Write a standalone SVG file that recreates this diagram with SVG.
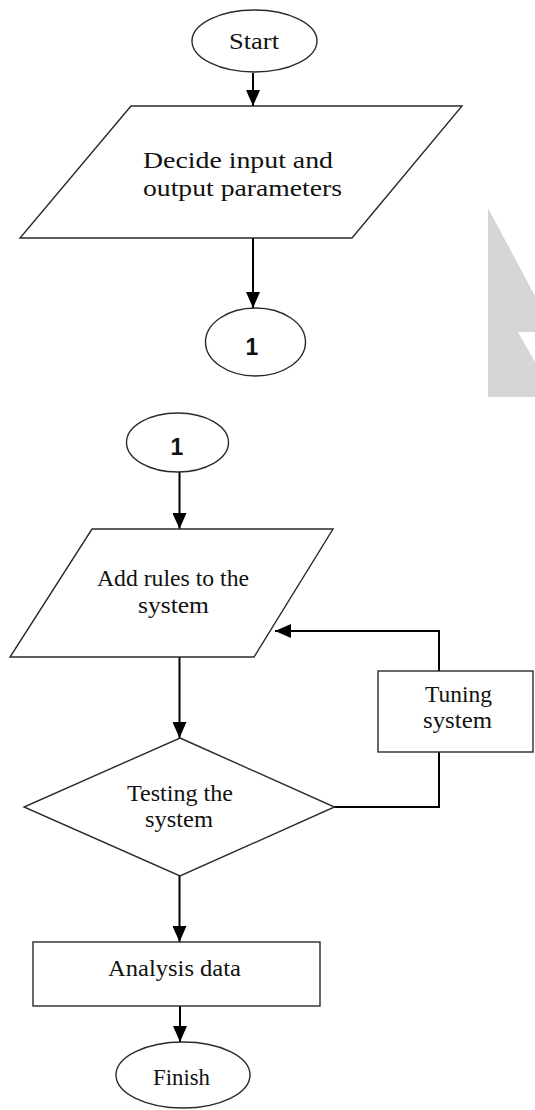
<svg xmlns="http://www.w3.org/2000/svg" width="535" height="1110" viewBox="0 0 535 1110">
<style>
.shape{fill:#fff;stroke:#2a2a2a;stroke-width:1.4}
.conn{fill:none;stroke:#000;stroke-width:2}
.lbl{font-family:"Liberation Serif","Times New Roman",serif;font-size:23px;fill:#111;text-anchor:middle}
.num{font-family:"Liberation Sans",Arial,sans-serif;font-size:23px;font-weight:bold;fill:#111;text-anchor:middle}
</style>
<defs>
<marker id="ah" markerUnits="userSpaceOnUse" markerWidth="16" markerHeight="14" refX="16" refY="7" orient="auto">
<path d="M0,0 L16,7 L0,14 z" fill="#000"/>
</marker>
</defs>
<rect width="535" height="1110" fill="#fff"/>
<polygon points="488,208 535,296 535,332 518,332 535,362 535,397 488,397" fill="#d6d6d6"/>
<g id="connectors">
<path class="conn" d="M253,73 V106" marker-end="url(#ah)"/>
<path class="conn" d="M253,238 V308" marker-end="url(#ah)"/>
<path class="conn" d="M179.5,472 V529" marker-end="url(#ah)"/>
<path class="conn" d="M179.5,657 V738" marker-end="url(#ah)"/>
<path class="conn" d="M334,807 H439 V752"/>
<path class="conn" d="M439,671 V631 H275" marker-end="url(#ah)"/>
<path class="conn" d="M179.5,876 V942" marker-end="url(#ah)"/>
<path class="conn" d="M180,1006 V1042" marker-end="url(#ah)"/>
</g>
<g id="start">
<ellipse class="shape" cx="254.5" cy="41" rx="62.5" ry="31"/>
<text class="lbl" x="254" y="49" textLength="50" lengthAdjust="spacingAndGlyphs">Start</text>
</g>
<g id="decide">
<polygon class="shape" points="131,106 462,106 352,238 20,238"/>
<text class="lbl" x="238" y="168" textLength="190" lengthAdjust="spacingAndGlyphs">Decide input and</text>
<text class="lbl" x="242.5" y="196" textLength="199" lengthAdjust="spacingAndGlyphs">output parameters</text>
</g>
<g id="connector1a">
<ellipse class="shape" cx="255.5" cy="342" rx="50" ry="34"/>
<text class="num" x="252" y="355">1</text>
</g>
<g id="connector1b">
<ellipse class="shape" cx="177.5" cy="442.5" rx="51" ry="29.5"/>
<text class="num" x="177" y="455">1</text>
</g>
<g id="addrules">
<polygon class="shape" points="92,529 333,529 254,657 10,657"/>
<text class="lbl" x="173" y="586" textLength="152" lengthAdjust="spacingAndGlyphs">Add rules to the</text>
<text class="lbl" x="173.5" y="613" textLength="71" lengthAdjust="spacingAndGlyphs">system</text>
</g>
<g id="tuning">
<rect class="shape" x="378" y="671" width="155" height="81"/>
<text class="lbl" x="458.5" y="702" textLength="67" lengthAdjust="spacingAndGlyphs">Tuning</text>
<text class="lbl" x="457.5" y="728" textLength="69" lengthAdjust="spacingAndGlyphs">system</text>
</g>
<g id="testing">
<polygon class="shape" points="180,738 334.5,807 180,876 24,807"/>
<text class="lbl" x="180" y="801" textLength="106" lengthAdjust="spacingAndGlyphs">Testing the</text>
<text class="lbl" x="179" y="827" textLength="68" lengthAdjust="spacingAndGlyphs">system</text>
</g>
<g id="analysis">
<rect class="shape" x="33" y="942" width="287" height="64"/>
<text class="lbl" x="174.5" y="976" textLength="133" lengthAdjust="spacingAndGlyphs">Analysis data</text>
</g>
<g id="finish">
<ellipse class="shape" cx="183" cy="1075" rx="67" ry="33"/>
<text class="lbl" x="181.5" y="1085" textLength="57" lengthAdjust="spacingAndGlyphs">Finish</text>
</g>
</svg>
